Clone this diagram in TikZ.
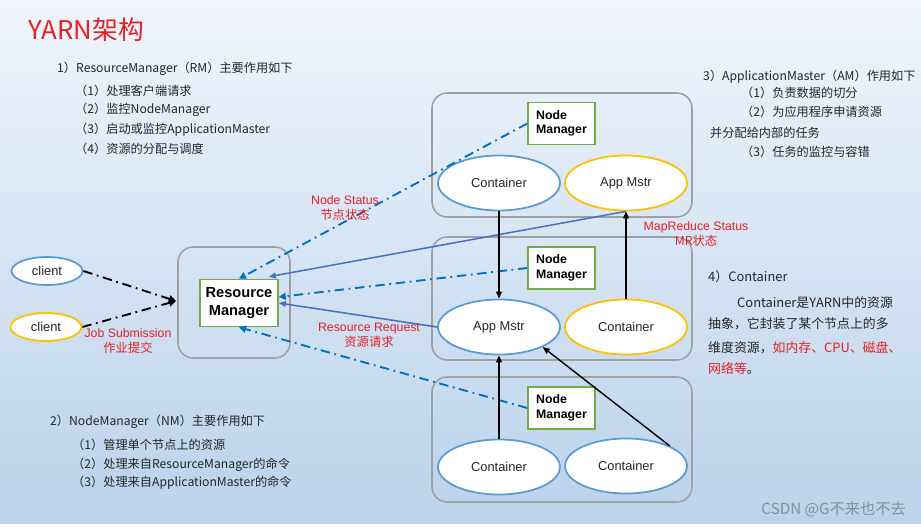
\documentclass[tikz,border=0pt]{standalone}
\usepackage{fontspec}
\setmainfont{Liberation Sans}
\newfontfamily\cjk{Noto Sans CJK SC}
\usetikzlibrary{shapes.geometric, arrows.meta, positioning, calc, fit}
\definecolor{cRed}{RGB}{232,32,38}
\definecolor{cText}{RGB}{38,38,38}
\definecolor{cLine}{RGB}{0,112,192}
\definecolor{cSolid}{RGB}{68,114,196}
\definecolor{cBlueRim}{RGB}{91,155,213}
\definecolor{cYellow}{RGB}{255,192,0}
\definecolor{cGreen}{RGB}{112,173,71}
\definecolor{cGrey}{RGB}{160,160,160}
\definecolor{cBgTop}{RGB}{240,245,251}
\definecolor{cBgMid}{RGB}{212,227,243}
\definecolor{cBgBot}{RGB}{186,210,235}
\definecolor{cMark}{RGB}{130,145,160}
\tikzset{
    hostbox/.style   ={rectangle, rounded corners=13pt, draw=cGrey, line width=1.3pt, inner sep=0pt},
    nmbox/.style     ={rectangle, draw=cGreen, line width=1.3pt, fill=white, minimum width=2.01cm, minimum height=1.26cm, align=left, inner sep=2pt, font=\fontsize{10.5}{12.5}\selectfont\bfseries},
    rmbox/.style     ={rectangle, draw=cGreen, line width=1.3pt, fill=white, minimum width=2.34cm, minimum height=1.41cm, align=center, inner sep=1pt, font=\fontsize{12.5}{15}\selectfont\bfseries},
    blob/.style      ={ellipse, draw=cBlueRim, line width=1.5pt, fill=white, minimum width=3.66cm, minimum height=1.65cm, inner sep=0pt, text=cText, font=\fontsize{11}{13}\selectfont},
    blobY/.style     ={blob, draw=cYellow},
    clientnode/.style={blob, minimum width=2.13cm, minimum height=0.84cm},
    jobarrow/.style  ={-{Triangle[length=6pt,width=6pt]}, line width=1.6pt, dash pattern=on 8pt off 4pt on 1.5pt off 4pt},
    statusarrow/.style={jobarrow, draw=cLine},
    reqarrow/.style  ={-{Triangle[length=6pt,width=5pt]}, draw=cSolid, line width=1.3pt},
    feedarrow/.style ={-{Triangle[length=6pt,width=5pt]}, black, line width=1.2pt},
    redlabel/.style  ={text=cRed, align=center, inner sep=0pt, font=\fontsize{10.5}{13}\selectfont},
    txt/.style       ={anchor=west, inner sep=0pt, text=cText, font=\cjk\fontsize{10.4}{13}\selectfont},
    paratxt/.style   ={txt, font=\cjk\fontsize{11}{13}\selectfont},
}
\begin{document}
\begin{tikzpicture}[x=0.03cm, y=-0.03cm]
\useasboundingbox (0,0) rectangle (921,527);
\fill[white] (0,0) rectangle (921,527);
\shade[top color=cBgTop, middle color=cBgMid, bottom color=cBgBot] (0,0) rectangle (921,523);

% title and notes
\node[anchor=west, inner sep=0pt, text=cRed, font=\cjk\fontsize{22}{26}\selectfont] (title) at (28,30) {YARN架构};

\node[txt] (rmhead) at (57,69) {1）ResourceManager（RM）主要作用如下};
\node[txt] (rm1) at (75,91) {（1）处理客户端请求};
\node[txt] (rm2) at (75,110) {（2）监控NodeManager};
\node[txt] (rm3) at (75,130) {（3）启动或监控ApplicationMaster};
\node[txt] (rm4) at (75,149) {（4）资源的分配与调度};

\node[txt] (nmhead) at (50,422) {2）NodeManager（NM）主要作用如下};
\node[txt] (nm1t) at (72,445) {（1）管理单个节点上的资源};
\node[txt] (nm2t) at (72,465) {（2）处理来自ResourceManager的命令};
\node[txt] (nm3t) at (72,483) {（3）处理来自ApplicationMaster的命令};

\node[txt] (amhead) at (703,77) {3）ApplicationMaster（AM）作用如下};
\node[txt] (am1t) at (741,93) {（1）负责数据的切分};
\node[txt] (am2t) at (741,112) {（2）为应用程序申请资源};
\node[txt] (am3t) at (710,133) {并分配给内部的任务};
\node[txt] (am4t) at (741,152) {（3）任务的监控与容错};

\node[paratxt] (cthead) at (708,277) {4）Container};
\node[paratxt] (ct1) at (737,303) {Container是YARN中的资源};
\node[paratxt] (ct2) at (708,324) {抽象，它封装了某个节点上的多};
\node[paratxt] (ct3) at (708,348) {维度资源，\textcolor{cRed}{如内存、CPU、磁盘、}};
\node[paratxt] (ct4) at (708,369) {\textcolor{cRed}{网络等}。};

% hosts
\node[hostbox, fit={(178,247) (290,358)}] (rmhost) {};
\node[hostbox, fit={(432,93) (692,217)}] (hostA) {};
\node[hostbox, fit={(432,237) (692,360)}] (hostB) {};
\node[hostbox, fit={(432,377) (692,502)}] (hostC) {};

% nodes
\node[clientnode] (cl1) at (47,271) {client};
\node[clientnode, draw=cYellow] (cl2) at (46,327) {client};
\node[rmbox] (rm) at (239,303) {Resource\\Manager};
\node[nmbox] (nm1) at (561.5,123.5) {Node\\Manager};
\node[nmbox] (nm2) at (561.5,268) {Node\\Manager};
\node[nmbox] (nm3) at (561.5,408) {Node\\Manager};
\node[blob] (c1) at (499,183) {Container};
\node[blobY] (am1) at (626,183) {App Mstr};
\node[blob] (am2) at (499,327) {App Mstr};
\node[blobY] (c2) at (626,327) {Container};
\node[blob] (c3) at (499,467) {Container};
\node[blob] (c4) at (626,466) {Container};
\coordinate (jobin) at (176,301);

% connectors
\draw[jobarrow] (cl1.east) -- (jobin);
\draw[jobarrow] (cl2.east) -- (jobin);
\draw[statusarrow] (nm1.west) -- (rm.north);
\draw[statusarrow] (nm2.west) -- ($(rm.east)+(0,-6)$);
\draw[statusarrow] (nm3.west) -- (rm.south);
\draw[reqarrow] (am1.south) -- ($(rm.north east)+(-10,-2)$);
\draw[reqarrow] (am2.west) -- (rm.east);
\draw[feedarrow] (c1.south) -- (am2.north);
\draw[feedarrow] (c2.north) -- (am1.south);
\draw[feedarrow] (c3.north) -- (am2.south);
\draw[feedarrow] (c4.north east) -- (am2.south east);

% labels
\node[redlabel] (nslabel) at (345,208) {Node Status\\{\cjk 节点状态}};
\node[redlabel] (rrlabel) at (369,335) {Resource Request\\{\cjk 资源请求}};
\node[redlabel] (mrlabel) at (696,234) {MapReduce Status\\{\cjk MR状态}};
\node[redlabel] (jslabel) at (128,341) {Job Submission\\{\cjk 作业提交}};

\node[anchor=east, inner sep=0pt, text=cMark, font=\cjk\fontsize{13}{15}\selectfont] (mark) at (906,509) {CSDN @G不来也不去};
\end{tikzpicture}
\end{document}
